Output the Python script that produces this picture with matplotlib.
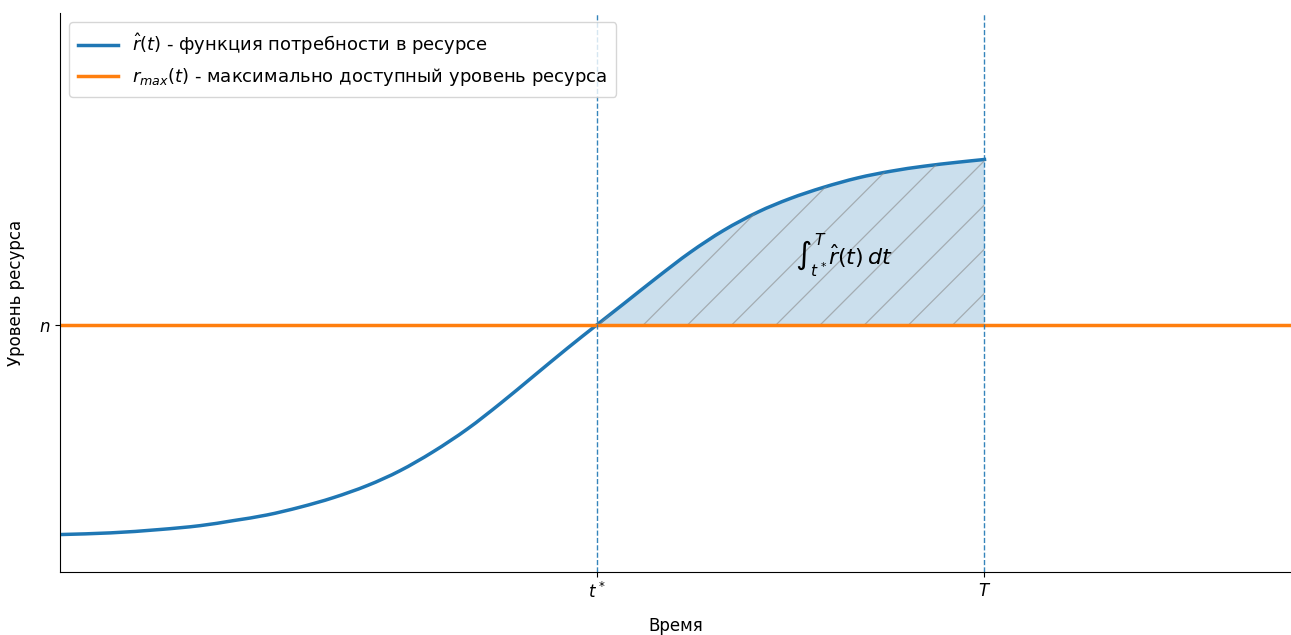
import numpy as np
import matplotlib
matplotlib.use("Agg")
import matplotlib.pyplot as plt
from matplotlib.path import Path
from matplotlib.patches import PathPatch
from matplotlib.lines import Line2D

plt.rcParams['font.family'] = ['DejaVu Sans']
plt.rcParams['font.size'] = 12

# --- data ---
t_values = [0.00, 0.41, 0.81, 1.14, 1.41, 1.68, 1.95, 2.22, 2.50,
            2.76, 3.03, 3.31, 3.58, 3.85, 4.12, 4.36, 4.58, 4.85, 5.12,
            5.39, 5.67, 5.93, 6.20, 6.48, 6.75, 7.02, 7.29, 7.51]
r_hat = [0.67, 0.70, 0.76, 0.83, 0.92, 1.02, 1.16, 1.33, 1.55,
         1.81, 2.15, 2.56, 3.02, 3.51, 4.00, 4.42, 4.80, 5.27, 5.72,
         6.11, 6.44, 6.68, 6.88, 7.05, 7.17, 7.26, 7.33, 7.38]
n_level = 4.42
t_star = 4.36
T_end = 7.51
x_limits = (0, 10)
y_limits = (0, 10)
x_tick_labels = ['$t^*$', '$T$']
y_tick_labels = ['$n$']
label_rhat = r'$\hat{r}(t)$ - функция потребности в ресурсе'
label_rmax = r'$r_{max}(t)$ - максимально доступный уровень ресурса'
integral_text = r'$\int_{t^*}^{T}\hat{r}(t)\,dt$'

t = np.array(t_values)
r = np.array(r_hat)


def tangents(x, y):
    m = np.empty_like(y)
    m[1:-1] = (y[2:] - y[:-2]) / (x[2:] - x[:-2])
    m[0] = (y[1] - y[0]) / (x[1] - x[0])
    m[-1] = (y[-1] - y[-2]) / (x[-1] - x[-2])
    return m


def smooth_path_codes(x, y):
    """Cubic Bezier segments through the read points (drawing style only)."""
    m = tangents(x, y)
    verts = [(x[0], y[0])]
    codes = [Path.MOVETO]
    for i in range(len(x) - 1):
        h = x[i + 1] - x[i]
        verts += [(x[i] + h / 3, y[i] + m[i] * h / 3),
                  (x[i + 1] - h / 3, y[i + 1] - m[i + 1] * h / 3),
                  (x[i + 1], y[i + 1])]
        codes += [Path.CURVE4] * 3
    return verts, codes


fig = plt.figure(figsize=(12.91, 6.35), dpi=100)
ax = fig.add_axes([0.0465, 0.0992, 0.9535, 0.8803])
ax.set_xlim(*x_limits)
ax.set_ylim(*y_limits)

# full-curve path; the shaded part reuses the segments from t* onwards
verts, codes = smooth_path_codes(t, r)
i0 = int(np.argmin(np.abs(t - t_star)))
seg_verts = verts[3 * i0:]
fill_verts = [(t_star, n_level)] + seg_verts[1:] + [(T_end, n_level), (t_star, n_level)]
fill_codes = [Path.MOVETO] + [Path.CURVE4] * (len(seg_verts) - 1) + [Path.LINETO, Path.CLOSEPOLY]
fill_patch = PathPatch(Path(fill_verts, fill_codes), facecolor='C0', alpha=0.23,
                       lw=0, transform=ax.transData)
ax.add_patch(fill_patch)

# manual 45-degree hatch lines, clipped to the shaded area
fig.canvas.draw()
px_per_x = ax.bbox.width / (x_limits[1] - x_limits[0])
px_per_y = ax.bbox.height / (y_limits[1] - y_limits[0])
k = px_per_x / px_per_y
spacing = 44.2 / px_per_x
for i in range(-12, 12):
    x0 = t_star + 0.02 + i * spacing
    xs = np.array([x0, x0 + 5])
    ys = n_level + (xs - x0) * k
    ln, = ax.plot(xs, ys, color='#8a8a8a', lw=0.9, alpha=0.6)
    ln.set_clip_path(fill_patch)

# demand curve
curve = PathPatch(Path(verts, codes), facecolor='none', edgecolor='C0',
                  lw=2.5, capstyle='projecting', joinstyle='round')
ax.add_patch(curve)

rmax_line = ax.axhline(n_level, color='C1', lw=2.5, label=label_rmax)

ax.axvline(t_star, color='C0', lw=1, ls='--', alpha=0.9)
ax.axvline(T_end, color='C0', lw=1, ls='--', alpha=0.9)

ax.text(6.37, 5.67, integral_text, fontsize=16, ha='center', va='center')

ax.set_xticks([t_star, T_end])
ax.set_xticklabels(x_tick_labels)
ax.set_yticks([n_level])
ax.set_yticklabels(y_tick_labels)
ax.set_xlabel('Время', labelpad=11)
ax.set_ylabel('Уровень ресурса', labelpad=10)
ax.spines['top'].set_visible(False)
ax.spines['right'].set_visible(False)

rhat_handle = Line2D([], [], color='C0', lw=2.5, label=label_rhat)
ax.legend(handles=[rhat_handle, rmax_line], loc='upper left',
          fontsize=13.0, handlelength=2.2, borderpad=0.5)

fig.savefig('out.png', dpi=100)
